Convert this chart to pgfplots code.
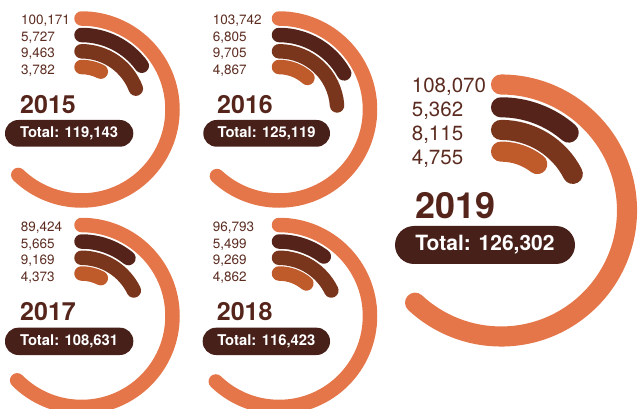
\documentclass[border=0pt]{standalone}
\usepackage{pgfplots}
\pgfplotsset{compat=1.18}
\usepackage{fontspec}
\setmainfont{TeX Gyre Heros}
\definecolor{cOut}{HTML}{E5764A}
\definecolor{cR2}{HTML}{56231A}
\definecolor{cR3}{HTML}{7A361C}
\definecolor{cR4}{HTML}{BF5A2B}
\definecolor{cTxt}{HTML}{5B2B20}
\definecolor{cYear}{HTML}{55251B}
\definecolor{cBox}{HTML}{47201A}
% #1 cx, #2 cy, #3 radius, #4 sweep angle, #5 colour, #6 width
\newcommand{\ring}[6]{%
  \draw[#5, line width=#6pt, line cap=round] (axis cs:#1,{#2-#3}) arc[start angle=90, delta angle=-#4, radius=#3pt];
}
% #1 x, #2 first baseline, #3 step, #4 font size, #5..#8 values
\newcommand{\labels}[8]{%
  \node[anchor=base west, inner sep=0, text=cTxt, font=\fontsize{#4}{#4}\selectfont] at (axis cs:#1,#2) {#5};
  \node[anchor=base west, inner sep=0, text=cTxt, font=\fontsize{#4}{#4}\selectfont] at (axis cs:#1,{#2+#3}) {#6};
  \node[anchor=base west, inner sep=0, text=cTxt, font=\fontsize{#4}{#4}\selectfont] at (axis cs:#1,{#2+2*#3}) {#7};
  \node[anchor=base west, inner sep=0, text=cTxt, font=\fontsize{#4}{#4}\selectfont] at (axis cs:#1,{#2+3*#3}) {#8};
}
% #1 x, #2 baseline, #3 size, #4 year
\newcommand{\yearlabel}[4]{%
  \node[anchor=base west, inner sep=0, text=cYear, font=\bfseries\fontsize{#3}{#3}\selectfont] at (axis cs:#1,#2) {#4};
}
% #1 x0, #2 y0, #3 x1, #4 y1, #5 corner radius, #6 font size, #7 total
\newcommand{\totalbox}[7]{%
  \fill[cBox, rounded corners=#5pt] (axis cs:#1,#2) rectangle (axis cs:#3,#4);
  \node[inner sep=0, text=white, font=\bfseries\fontsize{#6}{#6}\selectfont] at (axis cs:{(#1+#3)/2},{(#2+#4)/2}) {Total: #7};
}
\begin{document}
\begin{tikzpicture}
\path[use as bounding box] (0,0) rectangle (638pt,409pt);
\clip (0,0) rectangle (638pt,409pt);
\begin{axis}[
  at={(0,0)}, anchor=south west,
  width=638pt, height=409pt, scale only axis,
  xmin=0, xmax=638, ymin=0, ymax=409, y dir=reverse,
  enlargelimits=false, hide axis, clip=false]
% 2015
\ring{81.5}{109.5}{91}{224}{cOut}{14.5}
\ring{81.5}{109.5}{74.5}{54}{cR2}{14.5}
\ring{81.5}{109.5}{58.2}{69}{cR3}{14.5}
\ring{81.5}{109.5}{42.5}{27}{cR4}{14.5}
\labels{21}{25}{16.5}{13.5}{100,171}{5,727}{9,463}{3,782}
\yearlabel{20}{113.3}{25}{2015}
\totalbox{5}{120}{133.3}{146.7}{13.3}{14.8}{119,143}
% 2016
\ring{279}{109.5}{91}{223}{cOut}{14.5}
\ring{279}{109.5}{74.5}{61}{cR2}{14.5}
\ring{279}{109.5}{58.2}{86}{cR3}{14.5}
\ring{279}{109.5}{42.5}{42}{cR4}{14.5}
\labels{212.7}{25}{16.5}{13.5}{103,742}{6,805}{9,705}{4,867}
\yearlabel{217}{113.3}{25}{2016}
\totalbox{203.3}{120}{330}{146.7}{13.3}{14.8}{125,119}
% 2017
\ring{81.5}{316}{91}{225}{cOut}{14.5}
\ring{81.5}{316}{74.5}{39}{cR2}{14.5}
\ring{81.5}{316}{58.2}{64}{cR3}{14.5}
\ring{81.5}{316}{42.5}{27}{cR4}{14.5}
\labels{20.7}{232}{16.5}{13.5}{89,424}{5,665}{9,169}{4,373}
\yearlabel{20}{320.5}{25}{2017}
\totalbox{5}{327.7}{133.3}{355}{13.3}{14.8}{108,631}
% 2018
\ring{279}{316}{91}{224}{cOut}{14.5}
\ring{279}{316}{74.5}{37}{cR2}{14.5}
\ring{279}{316}{58.2}{64}{cR3}{14.5}
\ring{279}{316}{42.5}{40}{cR4}{14.5}
\labels{212.7}{232}{16.5}{13.5}{96,793}{5,499}{9,269}{4,862}
\yearlabel{216.7}{320.5}{25}{2018}
\totalbox{202.7}{327.7}{330}{355}{13.3}{14.8}{116,423}
% 2019
\ring{501}{210.5}{126}{223}{cOut}{20.1}
\ring{501}{210.5}{103.2}{41}{cR2}{20.1}
\ring{501}{210.5}{80.6}{63}{cR3}{20.1}
\ring{501}{210.5}{58.9}{38}{cR4}{20.1}
\labels{411.7}{92.3}{24}{20.5}{108,070}{5,362}{8,115}{4,755}
\yearlabel{415}{218.3}{36}{2019}
\totalbox{395}{226}{575}{264}{19}{21}{126,302}
\end{axis}
\end{tikzpicture}
\end{document}
